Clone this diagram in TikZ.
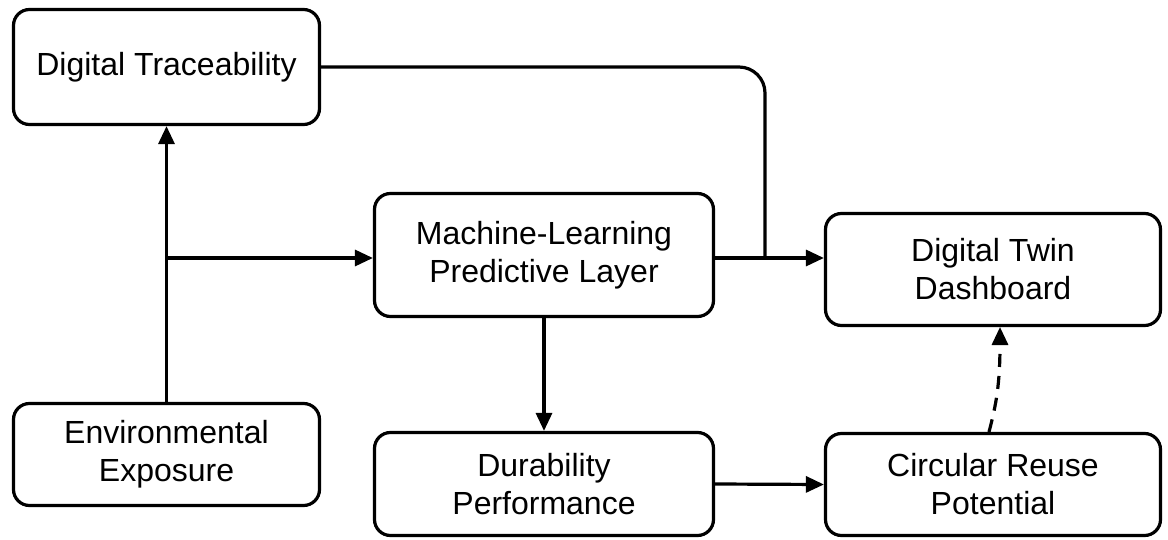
\documentclass[tikz,border=0pt]{standalone}
\usepackage{fontspec}
\setmainfont{Liberation Sans}
\usetikzlibrary{arrows.meta}
\begin{document}
\begin{tikzpicture}[x=1pt,y=-1pt,
  box/.style={draw, line width=3.2pt, rounded corners=16pt, align=center,
    font=\fontsize{32}{38}\selectfont, inner sep=0pt},
  conn/.style={line width=3.2pt, -{Triangle[length=18pt,width=16pt]}},
  link/.style={line width=3.2pt}]
\useasboundingbox (0,0) rectangle (1168,540);
\node[box, minimum width=306pt, minimum height=115pt] (dt) at (166.5,67) {Digital Traceability};
\node[box, minimum width=339pt, minimum height=123pt] (ml) at (544,255) {Machine-Learning\\Predictive Layer};
\node[box, minimum width=335pt, minimum height=112pt] (tw) at (993,269.5) {Digital Twin\\Dashboard};
\node[box, minimum width=306pt, minimum height=102pt] (env) at (166.5,454.5) {Environmental\\Exposure};
\node[box, minimum width=339pt, minimum height=103pt] (dur) at (544,484) {Durability\\Performance};
\node[box, minimum width=335pt, minimum height=102pt] (cr) at (993,484.5) {Circular Reuse\\Potential};
\coordinate (j) at (166.5,258);
\coordinate (m) at (765,258);
\coordinate (cs) at (989,432);
\coordinate (ce) at (1000,327);
\draw[conn] (env.north) -- (dt.south);
\draw[conn] (j) -- (j -| ml.west);
\draw[conn] (ml.east |- j) -- (tw.west |- j);
\draw[link, rounded corners=26pt] (dt.east) -| (m);
\draw[conn] (ml.south) -- (dur.north);
\draw[conn] (dur.east) -- (cr.west);
\draw[conn, dash pattern=on 13pt off 9pt] (cs) .. controls (996,405) and (1000,385) .. (ce);
\end{tikzpicture}
\end{document}
